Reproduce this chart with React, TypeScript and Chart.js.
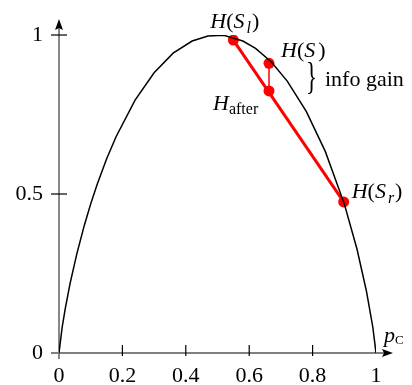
import React, { useEffect, useRef } from "react";
import { Chart, registerables } from "chart.js";

Chart.register(...registerables);

// Binary entropy curve, as sampled in the picture
const pVals = [0, 0.01, 0.02, 0.035, 0.056, 0.08, 0.1, 0.12, 0.15, 0.18, 0.24, 0.3, 0.36, 0.42, 0.47, 0.52, 0.58, 0.62, 0.67, 0.72, 0.78, 0.84, 0.9, 0.94, 0.97, 0.99, 1];
const hVals = [0, 0.081, 0.141, 0.219, 0.311, 0.402, 0.469, 0.529, 0.61, 0.68, 0.795, 0.881, 0.943, 0.981, 0.997, 0.999, 0.981, 0.958, 0.915, 0.855, 0.76, 0.634, 0.469, 0.327, 0.194, 0.081, 0];

// Marked points: H(S_l), H(S), H_after, H(S_r)
const markerP = [0.55, 0.6625, 0.6625, 0.898];
const markerH = [0.984, 0.911, 0.824, 0.475];

const xTicks = [0, 0.2, 0.4, 0.6, 0.8, 1];
const yTicks = [0, 0.5, 1];

const FAM = '"Liberation Serif", "Times New Roman", serif';

type Run = [string, string, number?, number?];

function drawRuns(ctx: CanvasRenderingContext2D, x: number, y: number, runs: Run[]) {
  let cx = x;
  for (const [t, f, dy, gap] of runs) {
    ctx.font = f;
    cx += gap || 0;
    ctx.fillText(t, cx, y + (dy || 0));
    cx += ctx.measureText(t).width;
  }
}

const it = (s: number) => `italic ${s}px ${FAM}`;
const up = (s: number) => `${s}px ${FAM}`;

const overlay = {
  id: "overlay",
  beforeDatasetsDraw(chart: any) {
    const ctx: CanvasRenderingContext2D = chart.ctx;
    const xs = chart.scales.x;
    const ys = chart.scales.y;
    const x0 = xs.getPixelForValue(0);
    const x1 = xs.getPixelForValue(1);
    const y0 = ys.getPixelForValue(0);
    const y1 = ys.getPixelForValue(1);
    ctx.save();
    // x axis
    ctx.strokeStyle = "#000";
    ctx.lineWidth = 1.2;
    ctx.beginPath();
    ctx.moveTo(x0 - 8, y0);
    ctx.lineTo(x1 + 10, y0);
    ctx.stroke();
    ctx.fillStyle = "#000";
    ctx.beginPath();
    ctx.moveTo(x1 + 17, y0);
    ctx.lineTo(x1 + 6, y0 - 4);
    ctx.lineTo(x1 + 8, y0);
    ctx.lineTo(x1 + 6, y0 + 4);
    ctx.closePath();
    ctx.fill();
    // y axis
    ctx.strokeStyle = "#7a7a7a";
    ctx.lineWidth = 1.8;
    ctx.beginPath();
    ctx.moveTo(x0, y0 + 6);
    ctx.lineTo(x0, y1 - 8);
    ctx.stroke();
    ctx.beginPath();
    ctx.moveTo(x0, y1 - 16);
    ctx.lineTo(x0 - 4, y1 - 5);
    ctx.lineTo(x0, y1 - 7);
    ctx.lineTo(x0 + 4, y1 - 5);
    ctx.closePath();
    ctx.fill();
    // ticks
    ctx.strokeStyle = "#000";
    ctx.lineWidth = 1.2;
    for (const v of xTicks) {
      if (v === 0 || v === 1) continue;
      const px = xs.getPixelForValue(v);
      ctx.beginPath();
      ctx.moveTo(px, y0 - 8);
      ctx.lineTo(px, y0 + 3);
      ctx.stroke();
    }
    for (const v of yTicks) {
      if (v === 0) continue;
      const py = ys.getPixelForValue(v);
      ctx.beginPath();
      ctx.moveTo(x0 - 8, py);
      ctx.lineTo(x0 + 8, py);
      ctx.stroke();
    }
    ctx.restore();
  },
  afterDatasetsDraw(chart: any) {
    const ctx: CanvasRenderingContext2D = chart.ctx;
    const xs = chart.scales.x;
    const ys = chart.scales.y;
    const mx = markerP.map((p) => xs.getPixelForValue(p));
    const my = markerH.map((h) => ys.getPixelForValue(h));
    ctx.save();
    ctx.fillStyle = "#000";
    ctx.textBaseline = "alphabetic";
    ctx.textAlign = "left";
    // H(S_l)
    drawRuns(ctx, mx[0] - 23, my[0] - 12, [["H", it(22)], ["(", up(22)], ["S", it(22)], ["l", it(16), 5, 2], [")", up(22), 0, 1]]);
    // H(S)
    drawRuns(ctx, mx[1] + 12, my[1] - 6, [["H", it(22)], ["(", up(22)], ["S", it(22)], [")", up(22), 0, 3]]);
    // brace + info gain
    ctx.save();
    ctx.translate(mx[1] + 37, my[1] + 26);
    ctx.scale(0.62, 1);
    ctx.font = up(37);
    ctx.fillText("}", 0, 0);
    ctx.restore();
    drawRuns(ctx, mx[1] + 56, my[1] + 23, [["info gain", up(22)]]);
    // H_after
    drawRuns(ctx, mx[2] - 56, my[2] + 19, [["H", it(22)], ["after", up(16), 4]]);
    // H(S_r)
    drawRuns(ctx, mx[3] + 8, my[3] - 4, [["H", it(22)], ["(", up(22)], ["S", it(22)], ["r", it(16), 5, 2], [")", up(22), 0, 1]]);
    // p_C
    const ax = xs.getPixelForValue(1);
    const ay = ys.getPixelForValue(0);
    drawRuns(ctx, ax + 8, ay - 11, [["p", it(22)], ["C", up(13), 2]]);
    ctx.restore();
  },
};

export default function App() {
  const ref = useRef<HTMLCanvasElement>(null);
  useEffect(() => {
    if (!ref.current) return;
    const curve = pVals.map((p, i) => ({ x: p, y: hVals[i] }));
    const markers = markerP.map((p, i) => ({ x: p, y: markerH[i] }));
    const chart = new Chart(ref.current, {
      type: "scatter",
      data: {
        datasets: [
          {
            data: curve,
            showLine: true,
            borderColor: "#000",
            borderWidth: 1.5,
            pointRadius: 0,
            tension: 0,
          },
          {
            data: [markers[0], markers[3]],
            showLine: true,
            borderColor: "#ff0000",
            borderWidth: 3,
            pointRadius: 0,
          },
          {
            data: [markers[1], markers[2]],
            showLine: true,
            borderColor: "#ff0000",
            borderWidth: 1.5,
            pointRadius: 0,
          },
          {
            data: markers,
            showLine: false,
            backgroundColor: "#ff0000",
            borderColor: "#ff0000",
            borderWidth: 0,
            pointRadius: 5.5,
          },
        ],
      } as any,
      options: {
        animation: false,
        responsive: false,
        devicePixelRatio: 1,
        layout: { padding: { top: 35, right: 36, left: 0, bottom: 0 } },
        plugins: { legend: { display: false }, tooltip: { enabled: false } },
        events: [],
        scales: {
          x: {
            type: "linear",
            min: 0,
            max: 1,
            afterFit: (s: any) => {
              s.height = 32;
            },
            afterBuildTicks: (s: any) => {
              s.ticks = xTicks.map((v) => ({ value: v }));
            },
            grid: { display: false, drawTicks: false },
            border: { display: false },
            ticks: {
              color: "#000",
              padding: 10,
              font: { family: FAM, size: 22 },
              maxRotation: 0,
              autoSkip: false,
              callback: (v: any) => String(Math.round(v * 10) / 10),
            },
          },
          y: {
            type: "linear",
            min: 0,
            max: 1,
            afterFit: (s: any) => {
              s.width = 59;
            },
            afterBuildTicks: (s: any) => {
              s.ticks = yTicks.map((v) => ({ value: v }));
            },
            grid: { display: false, drawTicks: false },
            border: { display: false },
            ticks: {
              color: "#000",
              padding: 16,
              font: { family: FAM, size: 22 },
              autoSkip: false,
              callback: (v: any) => String(Math.round(v * 10) / 10),
            },
          },
        },
      } as any,
      plugins: [overlay],
    });
    return () => chart.destroy();
  }, []);
  return (
    <div style={{ position: "fixed", left: 0, top: 0, width: 412, height: 385, background: "#fff" }}>
      <canvas ref={ref} width={412} height={385} style={{ width: 412, height: 385, display: "block" }} />
    </div>
  );
}
